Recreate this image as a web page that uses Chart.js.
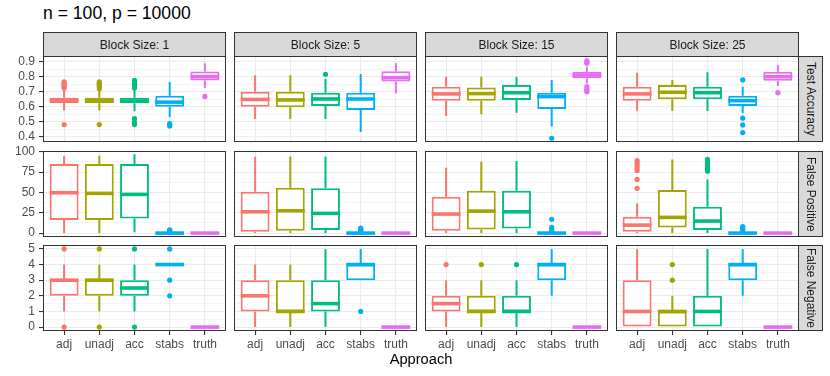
<!DOCTYPE html>
<html>
<head>
<meta charset="utf-8">
<script src="https://cdn.jsdelivr.net/npm/chart.js@4.4.1/dist/chart.umd.min.js"></script>
<style>
  body { margin: 0; background: #fff; font-family: "Liberation Sans", Arial, sans-serif; }
  #wrap { position: relative; width: 830px; height: 376px; overflow: hidden; }
  #wrap canvas, .strip, .txt { position: absolute; }
  .strip { background: #D9D9D9; border: 1px solid #333; box-sizing: border-box; color: #1A1A1A;
           font-size: 12px; display: flex; align-items: center; justify-content: center; }
  .strip.right { writing-mode: vertical-rl; }
  .txt { white-space: nowrap; color: #000; }
</style>
</head>
<body>
<div id="wrap"></div>
<script>
const approaches = ['adj', 'unadj', 'acc', 'stabs', 'truth'];
const blockLabels = ['Block Size: 1', 'Block Size: 5', 'Block Size: 15', 'Block Size: 25'];
const metricLabels = ['Test Accuracy', 'False Positive', 'False Negative'];
const colors = ['#F8766D', '#A3A500', '#00BF7D', '#00B0F6', '#E76BF3'];

// box stats per approach: [lower whisker, q1, median, q3, upper whisker], one list per block size
const accuracyBoxes = [
  [[0.575, 0.624, 0.64, 0.66, 0.712], [0.575, 0.622, 0.64, 0.66, 0.71], [0.57, 0.622, 0.638, 0.66, 0.715], [0.53, 0.6, 0.63, 0.672, 0.765], [0.725, 0.775, 0.80, 0.835, 0.89]],
  [[0.518, 0.60, 0.648, 0.70, 0.81], [0.518, 0.596, 0.645, 0.70, 0.81], [0.518, 0.605, 0.651, 0.693, 0.785], [0.43, 0.578, 0.651, 0.693, 0.818], [0.69, 0.767, 0.793, 0.836, 0.889]],
  [[0.538, 0.64, 0.685, 0.733, 0.80], [0.549, 0.64, 0.687, 0.727, 0.80], [0.56, 0.645, 0.693, 0.745, 0.80], [0.467, 0.585, 0.667, 0.693, 0.778], [0.756, 0.789, 0.811, 0.833, 0.867]],
  [[0.571, 0.64, 0.685, 0.733, 0.827], [0.571, 0.649, 0.696, 0.745, 0.778], [0.571, 0.649, 0.693, 0.733, 0.829], [0.556, 0.605, 0.64, 0.673, 0.733], [0.738, 0.773, 0.80, 0.833, 0.878]]
];
const accuracyOutliers = [
  [[0.48, 0.725, 0.735, 0.745, 0.755, 0.765], [0.48, 0.72, 0.735, 0.745, 0.755, 0.765], [0.48, 0.495, 0.52, 0.725, 0.74, 0.75, 0.76, 0.775], [0.47, 0.478, 0.486], [0.668]],
  [[], [], [0.816], [], []],
  [[], [], [], [0.389], [0.70, 0.71, 0.72, 0.733, 0.89, 0.898, 0.905]],
  [[], [], [], [0.427, 0.478, 0.523, 0.778], [0.693]]
];
const falsePosBoxes = [
  [[0, 16, 49.6, 84.9, 94.7], [0, 16, 48.8, 85, 95], [1, 18, 47.6, 85, 96.8], [0, 0, 0, 0, 0], [0, 0, 0, 0, 0]],
  [[0, 1.6, 26.2, 50.8, 93.9], [0, 2.8, 27.4, 55.7, 94], [0, 3.7, 24.2, 55, 94], [0, 0, 0, 0, 0], [0, 0, 0, 0, 0]],
  [[0, 2.8, 23.4, 44.7, 80.3], [0, 4.5, 27, 52, 87.7], [0, 5.7, 26.2, 52, 88.6], [0, 0, 0, 0, 0], [0, 0, 0, 0, 0]],
  [[0, 1.6, 9.8, 20, 36.5], [0, 7, 19.3, 52.9, 90.6], [0, 3.7, 14.8, 32.4, 66], [0, 0, 0, 0, 0], [0, 0, 0, 0, 0]]
];
const falsePosOutliers = [
  [[], [], [], [1, 2, 3, 4], []],
  [[], [], [], [1, 2, 3, 4, 5, 6], []],
  [[], [], [], [2, 4, 7, 17], []],
  [[55, 66, 77, 80, 83, 86, 89], [], [76, 79, 82, 85, 88, 90.5], [2, 4, 6, 8], []]
];
const falseNegBoxes = [
  [[1, 2, 3, 3, 4], [1, 2, 3, 3, 4], [1, 2, 2.5, 3, 4], [4, 4, 4, 4, 4], [0, 0, 0, 0, 0]],
  [[0, 1, 2, 3, 4], [0, 1, 1, 3, 4], [0, 1, 1.5, 3, 5], [3, 3, 4, 4, 5], [0, 0, 0, 0, 0]],
  [[0, 1, 1.5, 2, 3], [0, 1, 1, 2, 3], [0, 1, 1, 2, 3], [2, 3, 4, 4, 5], [0, 0, 0, 0, 0]],
  [[0, 0, 1, 3, 5], [0, 0, 1, 1, 2], [0, 0, 1, 2, 5], [2, 3, 4, 4, 5], [0, 0, 0, 0, 0]]
];
const falseNegOutliers = [
  [[0, 5], [0, 5], [0, 5], [2, 3, 5], []],
  [[], [], [], [1], []],
  [[4], [4], [4], [], []],
  [[], [3, 4], [], [], []]
];

const yMajor = [[0.4, 0.5, 0.6, 0.7, 0.8, 0.9], [0, 25, 50, 75, 100], [0, 1, 2, 3, 4, 5]];
const yTickLabels = [['0.4', '0.5', '0.6', '0.7', '0.8', '0.9'], ['0', '25', '50', '75', '100'], ['0', '1', '2', '3', '4', '5']];
const yLimits = [[0.364, 0.938], [-4.8, 100.9], [-0.25, 5.25]];

const boxStats = [accuracyBoxes, falsePosBoxes, falseNegBoxes];
const outliers = [accuracyOutliers, falsePosOutliers, falseNegOutliers];

// layout
const panelLeft = [43, 234, 425, 616];
const panelTop = [56, 151, 245];
const panelW = 183, panelH = 86, yAxisW = 43, xAxisH = 24, padTop = 8;
const wrap = document.getElementById('wrap');

Chart.defaults.font.family = 'Liberation Sans, Arial, sans-serif';

// whiskers and median lines, placed via the chart scales
const boxExtras = {
  id: 'boxExtras',
  afterDatasetsDraw(chart) {
    const { ctx, scales: { y } } = chart;
    const meta = chart.getDatasetMeta(0);
    const ds = chart.data.datasets[0];
    ctx.save();
    meta.data.forEach((bar, i) => {
      const d = ds.data[i];
      const half = bar.width / 2;
      ctx.strokeStyle = colors[i];
      ctx.lineWidth = 2;
      ctx.beginPath();
      ctx.moveTo(bar.x, y.getPixelForValue(d.y[1]));
      ctx.lineTo(bar.x, y.getPixelForValue(d.hi));
      ctx.moveTo(bar.x, y.getPixelForValue(d.y[0]));
      ctx.lineTo(bar.x, y.getPixelForValue(d.lo));
      ctx.stroke();
      const my = y.getPixelForValue(d.med);
      ctx.lineWidth = 3.6;
      ctx.beginPath();
      ctx.moveTo(bar.x - half, my);
      ctx.lineTo(bar.x + half, my);
      ctx.stroke();
    });
    ctx.restore();
  }
};

const panelBorder = {
  id: 'panelBorder',
  afterDraw(chart) {
    const { ctx, chartArea: a } = chart;
    ctx.save();
    ctx.strokeStyle = '#333333';
    ctx.lineWidth = 1;
    ctx.strokeRect(a.left + 0.5, a.top + 0.5, a.width - 1, a.height - 1);
    ctx.restore();
  }
};

function buildPanel(row, col) {
  const boxes = boxStats[row][col];
  const outl = outliers[row][col];
  const canvas = document.createElement('canvas');
  const w = yAxisW + panelW;
  const h = padTop + panelH + (row === 2 ? xAxisH : 0);
  canvas.width = w;
  canvas.height = h;
  canvas.style.left = (panelLeft[col] - yAxisW) + 'px';
  canvas.style.top = (panelTop[row] - padTop) + 'px';
  canvas.style.width = w + 'px';
  canvas.style.height = h + 'px';
  wrap.appendChild(canvas);

  const boxData = boxes.map((b, i) => ({ x: i + 1, y: [b[1], b[3]], lo: b[0], med: b[2], hi: b[4] }));
  const pts = [];
  outl.forEach((list, i) => list.forEach(v => pts.push({ x: i + 1, y: v })));

  const majors = yMajor[row];
  const minors = majors.slice(1).map((m, i) => (m + majors[i]) / 2);
  const majorIndex = v => majors.findIndex(m => Math.abs(m - v) < 1e-9);
  const leftCol = col === 0;
  const bottomRow = row === 2;

  new Chart(canvas, {
    type: 'bar',
    data: {
      datasets: [
        {
          type: 'bar',
          data: boxData,
          backgroundColor: '#ffffff',
          borderColor: colors,
          borderWidth: 2,
          borderSkipped: false,
          categoryPercentage: 1,
          barPercentage: 0.82
        },
        {
          type: 'scatter',
          data: pts,
          pointRadius: 2.6,
          pointBorderWidth: 0,
          pointBackgroundColor: c => (c.raw ? colors[c.raw.x - 1] : '#000'),
          pointBorderColor: 'rgba(0,0,0,0)'
        }
      ]
    },
    options: {
      responsive: false,
      animation: false,
      events: [],
      layout: { padding: { top: padTop, left: 0, right: 0, bottom: 0 }, autoPadding: false },
      plugins: { legend: { display: false }, tooltip: { enabled: false } },
      scales: {
        x: {
          type: 'linear',
          min: 0.4,
          max: 5.6,
          offset: false,
          afterBuildTicks: s => { s.ticks = approaches.map((_, i) => ({ value: i + 1 })); },
          afterFit: s => {
            s.height = bottomRow ? xAxisH : 0;
            s.paddingLeft = 0; s.paddingRight = 0; s.paddingTop = 0; s.paddingBottom = 0;
          },
          border: { display: false },
          grid: {
            offset: false,
            color: '#EBEBEB',
            lineWidth: 1.1,
            drawTicks: bottomRow,
            tickLength: 4,
            tickColor: '#333333'
          },
          ticks: {
            display: bottomRow,
            autoSkip: false,
            maxRotation: 0,
            padding: 2,
            color: '#4D4D4D',
            font: { size: 12 },
            callback: v => approaches[Math.round(v) - 1]
          }
        },
        y: {
          type: 'linear',
          min: yLimits[row][0],
          max: yLimits[row][1],
          beginAtZero: false,
          afterBuildTicks: s => {
            s.ticks = majors.concat(minors).sort((a, b) => a - b).map(v => ({ value: v }));
          },
          afterFit: s => {
            s.width = yAxisW;
            s.paddingLeft = 0; s.paddingRight = 0; s.paddingTop = 0; s.paddingBottom = 0;
          },
          border: { display: false },
          grid: {
            color: '#EBEBEB',
            lineWidth: c => (c.tick && majorIndex(c.tick.value) >= 0 ? 1.1 : 0.55),
            drawTicks: leftCol,
            tickLength: 4,
            tickColor: c => (c.tick && majorIndex(c.tick.value) >= 0 ? '#333333' : 'rgba(0,0,0,0)')
          },
          ticks: {
            display: leftCol,
            autoSkip: false,
            padding: 4,
            color: '#4D4D4D',
            font: { size: 12 },
            callback: v => {
              const i = majorIndex(v);
              return i >= 0 ? yTickLabels[row][i] : '';
            }
          }
        }
      }
    },
    plugins: [boxExtras, panelBorder]
  });
}

function addDiv(cls, text, left, top, width, height, extra) {
  const d = document.createElement('div');
  d.className = cls;
  d.textContent = text;
  d.style.left = left + 'px';
  d.style.top = top + 'px';
  if (width != null) d.style.width = width + 'px';
  if (height != null) d.style.height = height + 'px';
  Object.assign(d.style, extra || {});
  wrap.appendChild(d);
}

for (let r = 0; r < 3; r++) {
  for (let c = 0; c < 4; c++) buildPanel(r, c);
}
blockLabels.forEach((t, c) => addDiv('strip', t, panelLeft[c], 32, panelW, 25));
metricLabels.forEach((t, r) => addDiv('strip right', t, panelLeft[3] + panelW - 1, panelTop[r], 25, panelH));

addDiv('txt', 'n = 100, p = 10000', 43, 5, null, null, { fontSize: '17.6px', lineHeight: '17.6px' });
addDiv('txt', 'Approach', panelLeft[0], 352, panelLeft[3] + panelW - panelLeft[0], null,
  { fontSize: '14.67px', lineHeight: '14.67px', textAlign: 'center' });
</script>
</body>
</html>
